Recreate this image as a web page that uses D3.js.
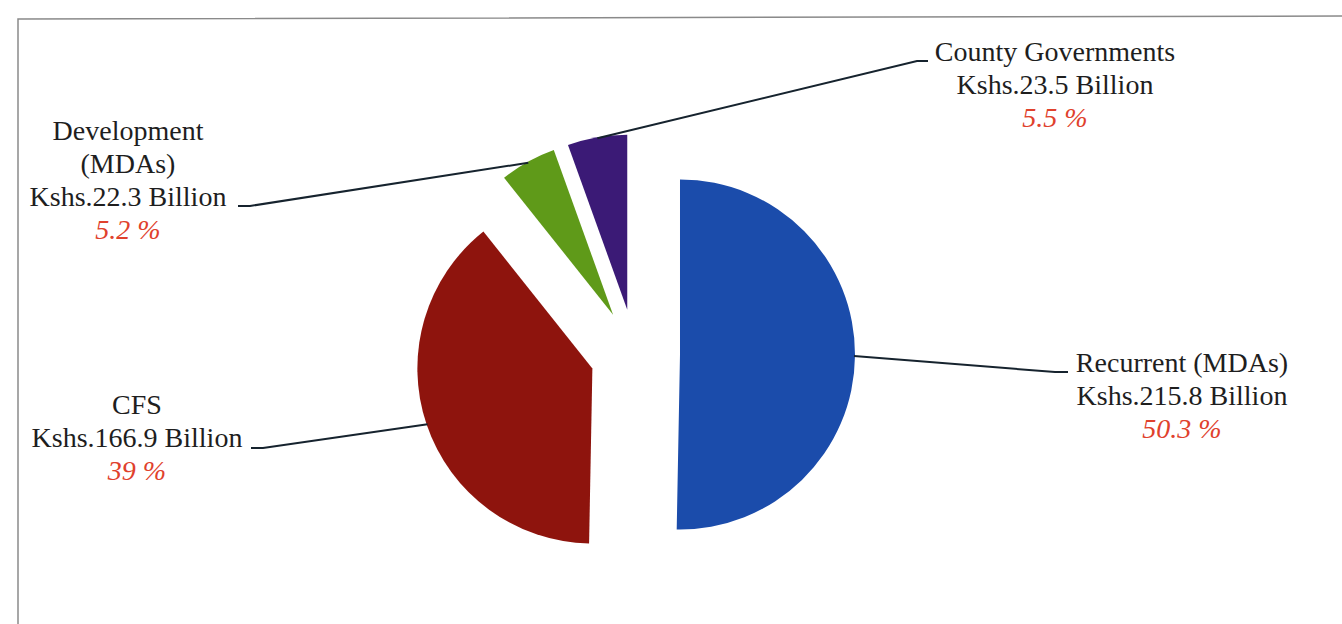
<!DOCTYPE html>
<html>
<head>
<meta charset="utf-8">
<script src="https://cdnjs.cloudflare.com/ajax/libs/d3/7.8.5/d3.min.js"></script>
<style>
	body { margin: 0; background: #fff; }
	svg { display: block; }
</style>
</head>
<body>
<script>
// budget shares, clockwise from 12 o'clock
var names = ['Recurrent (MDAs)', 'CFS', 'Development (MDAs)', 'County Governments'],
	amounts = ['215.8', '166.9', '22.3', '23.5'],
	shares = [50.3, 39, 5.2, 5.5],
	shareLabels = ['50.3 %', '39 %', '5.2 %', '5.5 %'],
	nameLines = [['Recurrent (MDAs)'], ['CFS'], ['Development', '(MDAs)'], ['County Governments']],
	colors = ['#1b4cab', '#8e140d', '#5f9a19', '#3b1a76'];

var width = 1342,
	height = 624,
	cx = 635,
	cy = 354,
	radius = 175,
	explode = 45,
	lineGap = 33,
	serif = "'Liberation Serif', 'Times New Roman', Times, 'DejaVu Serif', serif";

// where each label block sits: elbow of leader, end of leader, text centre, first baseline
var layout = [
	{ elbow: [1055, 372], end: [1068, 372], tx: 1182, ty: 372 },
	{ elbow: [263, 448], end: [251, 448], tx: 137, ty: 414 },
	{ elbow: [250, 206], end: [238, 206], tx: 128, ty: 140 },
	{ elbow: [917, 61], end: [928, 61], tx: 1055, ty: 61 }
];

var svg = d3.select('body')
	.append('svg')
	.attr('width', width)
	.attr('height', height);

// frame of the scanned chart area
svg.append('path')
	.attr('d', 'M18,' + height + 'L18,19L' + width + ',16')
	.attr('fill', 'none')
	.attr('stroke', '#8a8a8a')
	.attr('stroke-width', 1.5);

var pie = d3.pie().sort(null).value(function(d) { return d; }),
	arcs = pie(shares),
	arc = d3.arc().innerRadius(0).outerRadius(radius);

var midAngle = function(d) { return (d.startAngle + d.endAngle) / 2; };

var g = svg.append('g').attr('transform', 'translate(' + cx + ',' + cy + ')');

// exploded slices
g.selectAll('path.slice')
	.data(arcs)
	.enter()
	.append('path')
	.attr('class', 'slice')
	.attr('fill', function(d, i) { return colors[i]; })
	.attr('d', arc)
	.attr('transform', function(d) {
		var a = midAngle(d);
		return 'translate(' + (Math.sin(a) * explode) + ',' + (-Math.cos(a) * explode) + ')';
	});

// leader lines start on the rim of the slice at its middle angle
g.selectAll('path.leader')
	.data(arcs)
	.enter()
	.append('path')
	.attr('class', 'leader')
	.attr('fill', 'none')
	.attr('stroke', '#16232e')
	.attr('stroke-width', 2)
	.attr('d', function(d, i) {
		var a = midAngle(d),
			r = radius + explode - 1,
			p0 = [Math.sin(a) * r, -Math.cos(a) * r],
			l = layout[i];
		return d3.line()([p0, [l.elbow[0] - cx, l.elbow[1] - cy], [l.end[0] - cx, l.end[1] - cy]]);
	});

// label blocks
arcs.forEach(function(d, i) {
	var l = layout[i],
		lines = nameLines[i].concat(['Kshs.' + amounts[i] + ' Billion']),
		t = svg.append('text')
			.attr('x', l.tx)
			.attr('y', l.ty)
			.attr('text-anchor', 'middle')
			.attr('font-family', serif)
			.attr('font-size', 28);

	lines.forEach(function(s, k) {
		t.append('tspan')
			.attr('x', l.tx)
			.attr('dy', k === 0 ? 0 : lineGap)
			.attr('fill', '#1e1e1e')
			.text(s);
	});

	t.append('tspan')
		.attr('x', l.tx)
		.attr('dy', lineGap)
		.attr('fill', '#e0412c')
		.attr('font-style', 'italic')
		.text(shareLabels[i]);
});
</script>
</body>
</html>
